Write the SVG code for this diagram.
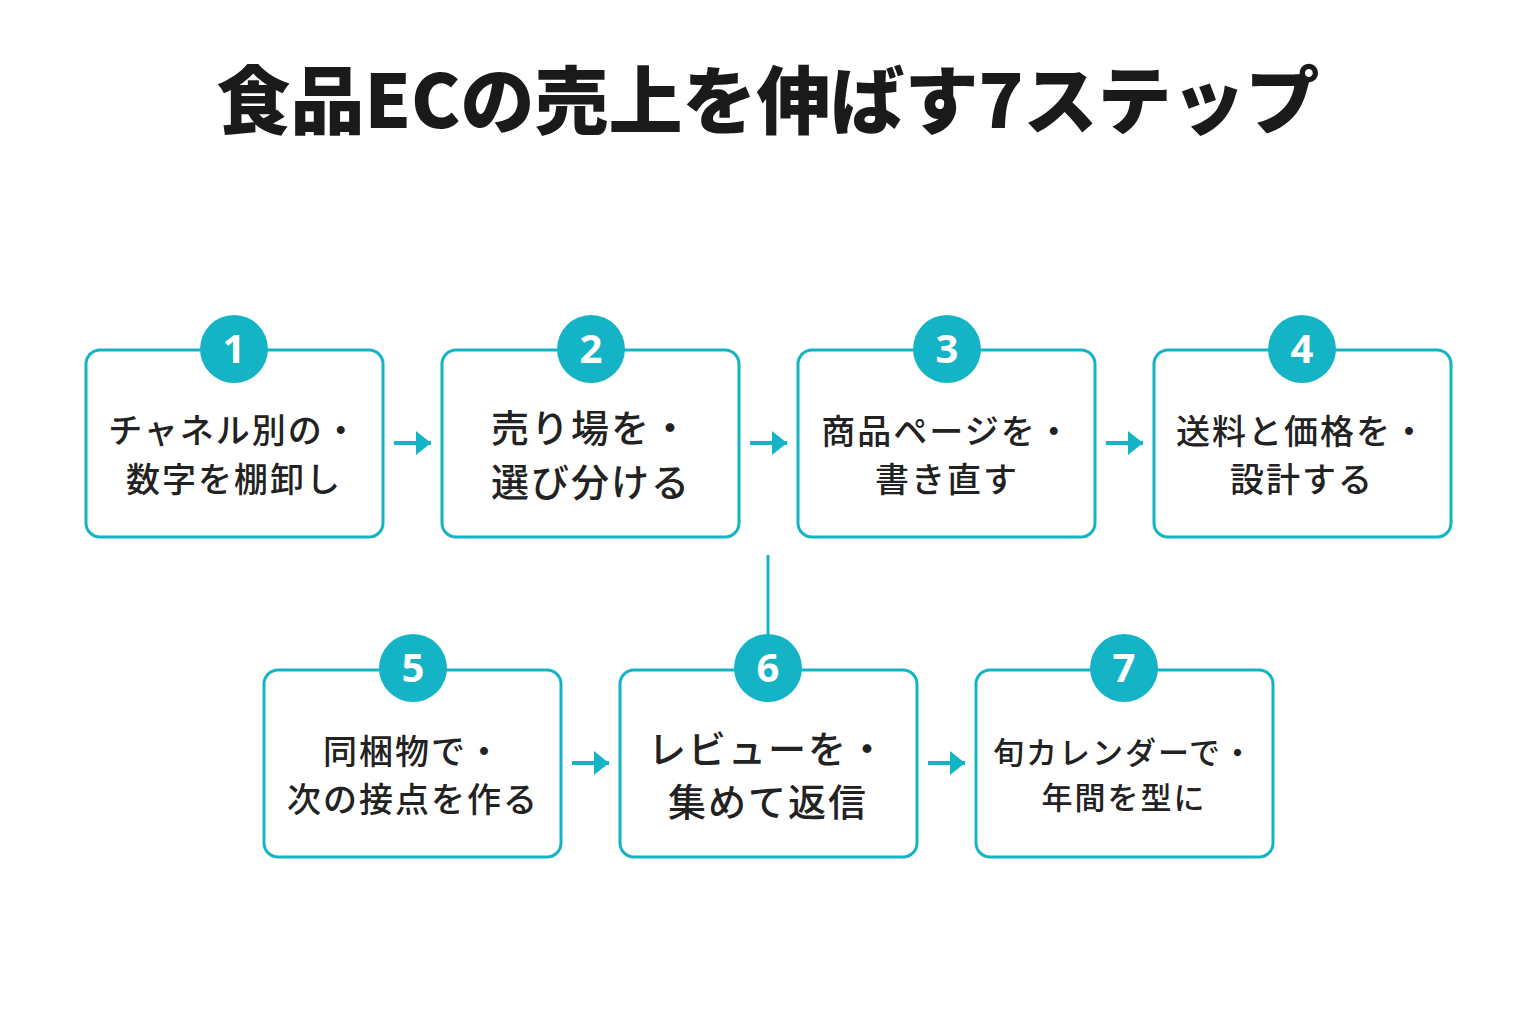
<svg xmlns="http://www.w3.org/2000/svg" width="1536" height="1024" viewBox="0 0 1536 1024">
<style>
.box{fill:#fff;stroke:#14b4c6;stroke-width:3}
.num{fill:#14b4c6}
.nt{font-family:"Noto Sans","Liberation Sans",sans-serif;font-weight:700;font-size:40px;fill:#fff;text-anchor:middle}
.t{font-family:"Noto Sans CJK JP",sans-serif;font-weight:500;fill:#222;text-anchor:middle;letter-spacing:2px}
.ln{stroke:#14b4c6;stroke-width:4;fill:none}
</style>
<defs><marker id="ah" markerUnits="userSpaceOnUse" markerWidth="16" markerHeight="24" refX="15" refY="12" orient="auto"><path d="M0,0 L15,12 L0,24 Z" fill="#14b4c6"/></marker></defs>
<rect width="1536" height="1024" fill="#fff"/>
<text x="768" y="128" font-family="Noto Sans CJK JP,sans-serif" font-weight="900" font-size="74" fill="#1a1a1a" text-anchor="middle">食品ECの売上を伸ばす7ステップ</text>
<g id="connectors">
<line class="ln" x1="394" y1="443" x2="431" y2="443" marker-end="url(#ah)"/>
<line class="ln" x1="750" y1="443" x2="787" y2="443" marker-end="url(#ah)"/>
<line class="ln" x1="1106" y1="443" x2="1143" y2="443" marker-end="url(#ah)"/>
<line class="ln" x1="768" y1="555" x2="768" y2="636" style="stroke-width:3"/>
<line class="ln" x1="572" y1="763" x2="609" y2="763" marker-end="url(#ah)"/>
<line class="ln" x1="928" y1="763" x2="965" y2="763" marker-end="url(#ah)"/>
</g>
<g id="n1"><rect class="box" x="86" y="350" width="297" height="187" rx="14"/><circle class="num" cx="234" cy="349" r="34"/><text class="nt" x="234" y="363">1</text>
<text class="t" x="234" y="443" font-size="34">チャネル別の・</text><text class="t" x="234" y="492" font-size="34">数字を棚卸し</text></g>
<g id="n2"><rect class="box" x="442" y="350" width="297" height="187" rx="14"/><circle class="num" cx="591" cy="349" r="34"/><text class="nt" x="591" y="363">2</text>
<text class="t" x="591" y="442" font-size="38">売り場を・</text><text class="t" x="591" y="496" font-size="38">選び分ける</text></g>
<g id="n3"><rect class="box" x="798" y="350" width="297" height="187" rx="14"/><circle class="num" cx="947" cy="349" r="34"/><text class="nt" x="947" y="363">3</text>
<text class="t" x="947" y="444" font-size="34">商品ページを・</text><text class="t" x="947" y="492" font-size="34">書き直す</text></g>
<g id="n4"><rect class="box" x="1154" y="350" width="297" height="187" rx="14"/><circle class="num" cx="1302" cy="349" r="34"/><text class="nt" x="1302" y="363">4</text>
<text class="t" x="1302" y="444" font-size="34">送料と価格を・</text><text class="t" x="1302" y="492" font-size="34">設計する</text></g>
<g id="n5"><rect class="box" x="264" y="670" width="297" height="187" rx="14"/><circle class="num" cx="413" cy="668" r="34"/><text class="nt" x="413" y="682">5</text>
<text class="t" x="413" y="764" font-size="34">同梱物で・</text><text class="t" x="413" y="812" font-size="34">次の接点を作る</text></g>
<g id="n6"><rect class="box" x="620" y="670" width="297" height="187" rx="14"/><circle class="num" cx="768" cy="668" r="34"/><text class="nt" x="768" y="682">6</text>
<text class="t" x="768" y="763" font-size="38">レビューを・</text><text class="t" x="768" y="816" font-size="38">集めて返信</text></g>
<g id="n7"><rect class="box" x="976" y="670" width="297" height="187" rx="14"/><circle class="num" cx="1124" cy="668" r="34"/><text class="nt" x="1124" y="682">7</text>
<text class="t" x="1124" y="764" font-size="31">旬カレンダーで・</text><text class="t" x="1124" y="809" font-size="31">年間を型に</text></g>
</svg>
